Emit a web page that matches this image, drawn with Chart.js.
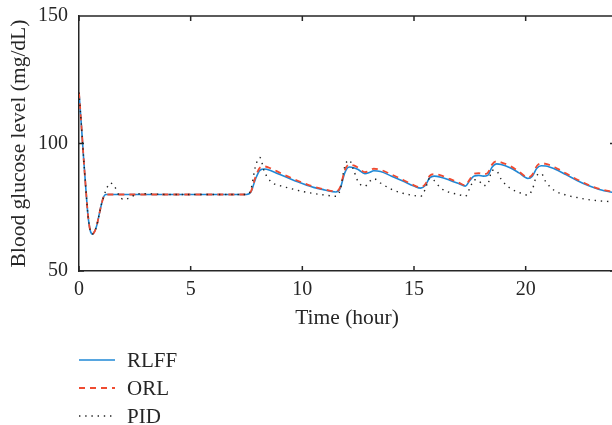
<!DOCTYPE html>
<html>
<head>
<meta charset="utf-8">
<script src="https://cdn.jsdelivr.net/npm/chart.js@4/dist/chart.umd.min.js"></script>
<style>
  html, body { margin: 0; padding: 0; background: #fff; }
  #wrap { position: relative; width: 612px; height: 425px; overflow: hidden; font-family: "Liberation Serif", "DejaVu Serif", serif; color: #262626; }
  #c { position: absolute; left: 0; top: 0; }
  .lg-row { position: absolute; left: 79px; height: 24px; display: flex; align-items: center; font-size: 21px; }
  .lg-row svg { width: 36px; height: 24px; margin-right: 12px; }
</style>
</head>
<body>
<div id="wrap">
  <canvas id="c" width="620" height="425"></canvas>
  <div id="legend"></div>
</div>
<script>
(function() {
"use strict";

// Time (hour)
var TIME = [0, 0.1, 0.2, 0.3, 0.4, 0.5, 0.6, 0.7, 0.8, 0.9,
  1.0, 1.1, 1.2, 1.4, 1.6, 1.8, 2.0, 2.3, 2.6, 3,
  4, 5, 6, 7, 7.5, 7.7, 7.9, 8.1, 8.3, 8.6,
  9, 9.5, 10, 10.5, 11, 11.5, 11.7, 11.9, 12.1, 12.3,
  12.5, 12.8, 13.0, 13.2, 13.5, 14, 14.5, 15, 15.3, 15.5,
  15.7, 15.9, 16.2, 16.6, 17.0, 17.3, 17.5, 17.7, 17.9, 18.1,
  18.3, 18.5, 18.7, 18.9, 19.3, 19.7, 20.1, 20.3, 20.5, 20.7,
  20.9, 21.3, 21.8, 22.3, 22.8, 23.3, 23.8, 24];

var RLFF = [120, 108, 95, 83, 72, 66, 64.5, 65.5, 68, 72,
  76, 79, 80, 80, 80, 80, 80, 80, 80, 80,
  80, 80, 80, 80, 80, 81, 86, 89.5, 90, 89.3,
  87.8, 86, 84.3, 82.8, 81.8, 81, 82.5, 88.5, 90.8, 90.5,
  89.8, 88.2, 88.6, 89.3, 89, 87.2, 85.3, 83.3, 82.5, 83.5,
  86.5, 87.2, 86.8, 85.6, 84.3, 83.3, 85.5, 87.3, 87.5, 87.2,
  87.5, 90.8, 92, 91.8, 90.5, 88.5, 86.3, 87.2, 90.3, 91.3,
  91.2, 90, 87.8, 85.5, 83.5, 82, 81, 80.7];

var ORL = [120, 108, 95, 83, 72, 66, 64.5, 65.5, 68, 72,
  76, 79, 80, 80, 80, 80, 80, 80, 80, 80,
  80, 80, 80, 80, 80, 81.2, 86.8, 90.5, 91, 90.2,
  88.5, 86.5, 84.7, 83.1, 82, 81.2, 83, 89.5, 91.8, 91.4,
  90.5, 88.8, 89.3, 90.1, 89.7, 87.8, 85.8, 83.6, 82.8, 84,
  87.3, 88, 87.5, 86.1, 84.7, 83.6, 86, 88.2, 88.4, 88,
  88.5, 91.8, 93, 92.6, 91.2, 89, 86.7, 87.8, 91.2, 92.3,
  92, 90.7, 88.3, 85.9, 83.8, 82.2, 81.2, 80.9];

var PID = [120, 108, 95, 83, 72, 66, 64.5, 65.5, 68, 72,
  76, 79, 81.5, 84.5, 83, 79.5, 78, 78.8, 80.2, 80.3,
  80, 80, 80, 80, 80, 82, 91, 94.5, 89, 85,
  83.5, 82.3, 81.2, 80.4, 79.8, 79.3, 82, 91, 93.5, 89.5,
  85, 83.2, 85, 86.2, 84.5, 82, 80.5, 79.6, 79.3, 82,
  86.3, 85.5, 82.5, 80.8, 80, 79.3, 82.5, 85.8, 85.5, 83.5,
  84, 89.5, 89.2, 86, 82.5, 80.8, 79.8, 82, 87.5, 88.2,
  85, 81.5, 79.8, 78.8, 78, 77.5, 77.2, 77];

var X_TICKS = [0, 5, 10, 15, 20];
var Y_TICKS = [50, 100, 150];

var SERIES = [
  { label: "RLFF", data: RLFF, color: "#1f88d6", dash: [], width: 1.6, order: 3 },
  { label: "ORL", data: ORL, color: "#ef4b31", dash: [6, 5], width: 1.8, order: 2 },
  { label: "PID", data: PID, color: "#222222", dash: [1.4, 4.8], width: 1.4, order: 1 }
];

var AXIS_COLOR = "#262626";
var TICK_LEN = 5;
var FONT = "'Liberation Serif', 'DejaVu Serif', serif";

function points(vals) {
  return TIME.map(function(t, i) { return { x: t, y: vals[i] }; });
}

// box on top/right and inward tick marks on all four sides
var boxTicks = {
  id: "boxTicks",
  afterDraw: function(chart) {
    var ctx = chart.ctx, a = chart.chartArea;
    var xs = chart.scales.x, ys = chart.scales.y;
    ctx.save();
    ctx.strokeStyle = AXIS_COLOR;
    ctx.lineWidth = 1.5;
    ctx.beginPath();
    ctx.moveTo(a.left, a.top); ctx.lineTo(a.right, a.top); ctx.lineTo(a.right, a.bottom);
    X_TICKS.forEach(function(v) {
      var px = xs.getPixelForValue(v);
      ctx.moveTo(px, a.bottom); ctx.lineTo(px, a.bottom - TICK_LEN);
      ctx.moveTo(px, a.top); ctx.lineTo(px, a.top + TICK_LEN);
    });
    Y_TICKS.forEach(function(v) {
      var py = ys.getPixelForValue(v);
      ctx.moveTo(a.left, py); ctx.lineTo(a.left + TICK_LEN, py);
      ctx.moveTo(a.right, py); ctx.lineTo(a.right - TICK_LEN, py);
    });
    ctx.stroke();
    ctx.restore();
  }
};

new Chart(document.getElementById("c").getContext("2d"), {
  type: "line",
  data: {
    datasets: SERIES.map(function(s) {
      return {
        label: s.label,
        data: points(s.data),
        borderColor: s.color,
        borderWidth: s.width,
        borderDash: s.dash,
        pointRadius: 0,
        fill: false,
        cubicInterpolationMode: "monotone",
        order: s.order
      };
    })
  },
  options: {
    responsive: false,
    animation: false,
    devicePixelRatio: 1,
    layout: { padding: { top: 16, right: 5, bottom: 94, left: 0 } },
    plugins: { legend: { display: false }, tooltip: { enabled: false } },
    scales: {
      x: {
        type: "linear", min: 0, max: 24,
        afterFit: function(s) { s.height = 60; s.paddingLeft = 0; s.paddingRight = 0; },
        afterBuildTicks: function(s) { s.ticks = X_TICKS.map(function(v) { return { value: v }; }); },
        ticks: { padding: 7, color: AXIS_COLOR, font: { family: FONT, size: 20 }, maxRotation: 0 },
        grid: { display: false, drawTicks: false },
        border: { display: true, color: AXIS_COLOR, width: 1.5 },
        title: { display: true, text: "Time (hour)", color: AXIS_COLOR, padding: 0, font: { family: FONT, size: 21.5 } }
      },
      y: {
        min: 50, max: 150,
        afterFit: function(s) { s.width = 79; s.paddingTop = 0; s.paddingBottom = 0; },
        afterBuildTicks: function(s) { s.ticks = Y_TICKS.map(function(v) { return { value: v }; }); },
        ticks: { padding: 11, color: AXIS_COLOR, font: { family: FONT, size: 20 } },
        grid: { display: false, drawTicks: false },
        border: { display: true, color: AXIS_COLOR, width: 1.5 },
        title: { display: true, text: "Blood glucose level (mg/dL)", color: AXIS_COLOR, padding: { top: 6, bottom: 0 }, font: { family: FONT, size: 21.5 } }
      }
    }
  },
  plugins: [boxTicks]
});

// legend, stacked under the x-axis title
var LEGEND_Y = [348, 376, 404];
var html = "";
SERIES.forEach(function(s, i) {
  html += '<div class="lg-row" style="top:' + LEGEND_Y[i] + 'px;">' +
    '<svg viewBox="0 0 36 24"><line x1="0" y1="12" x2="36" y2="12" stroke="' + s.color +
    '" stroke-width="' + s.width + '" stroke-dasharray="' + (s.dash.length ? s.dash.join(",") : "none") + '"/></svg>' +
    '<span>' + s.label + '</span></div>';
});
document.getElementById("legend").innerHTML = html;

})();
</script>
</body>
</html>
